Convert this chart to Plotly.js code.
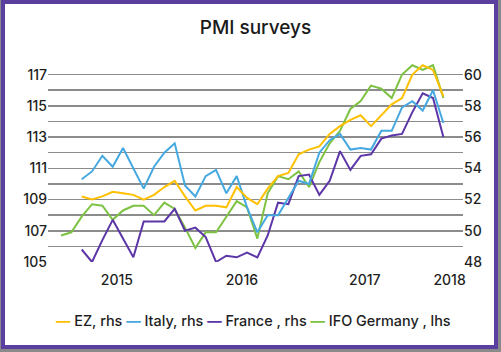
<!DOCTYPE html>
<html>
<head>
<meta charset="utf-8">
<script src="https://cdn.plot.ly/plotly-3.0.1.min.js"></script>
<style>
html,body{margin:0;padding:0;background:#8a8a8a;width:501px;height:352px;overflow:hidden;}
#frame{position:absolute;left:1px;top:0;width:489px;height:341px;border:4px solid #5b3f9e;background:#fff;}
#chart{position:absolute;left:0;top:0;width:501px;height:352px;}
</style>
</head>
<body>
<div id="frame"></div>
<div id="chart"></div>
<script>
// Monthly categories, Jan 2015 .. Feb 2018
const months = ['2015-01','2015-02','2015-03','2015-04','2015-05','2015-06','2015-07','2015-08','2015-09','2015-10','2015-11','2015-12',
                '2016-01','2016-02','2016-03','2016-04','2016-05','2016-06','2016-07','2016-08','2016-09','2016-10','2016-11','2016-12',
                '2017-01','2017-02','2017-03','2017-04','2017-05','2017-06','2017-07','2017-08','2017-09','2017-10','2017-11','2017-12',
                '2018-01','2018-02'];
const pmiStart = '2015-03';

// IFO Germany (lhs), Jan 2015 .. Feb 2018
const ifoGermany = [106.7,106.9,107.9,108.7,108.6,107.7,108.3,108.6,108.6,108.0,108.8,108.4,
                    107.2,105.9,106.9,106.9,107.9,108.9,108.5,106.5,109.4,110.5,110.3,110.8,
                    109.8,111.4,112.6,113.4,114.8,115.3,116.3,116.1,115.5,117.0,117.6,117.3,
                    117.6,115.5];
// PMI series (rhs), Mar 2015 .. Feb 2018
const ezPMI = [52.2,52.0,52.2,52.5,52.4,52.3,52.0,52.3,52.8,53.2,
               52.2,51.3,51.6,51.6,51.5,52.8,52.1,51.7,52.7,53.5,53.7,54.9,
               55.2,55.4,56.2,56.7,57.1,57.4,56.7,57.4,58.1,58.5,60.0,60.6,
               60.3,58.6];
const italyPMI = [53.3,53.8,54.8,54.1,55.3,54.0,52.7,54.1,55.0,55.6,
                  52.9,52.2,53.5,53.9,52.4,53.5,51.5,49.9,51.0,51.0,52.1,53.2,
                  53.0,55.0,55.8,56.2,55.2,55.3,55.2,56.4,56.4,57.9,58.3,57.7,
                  59.0,56.9];
const francePMI = [48.8,48.0,49.4,50.7,49.5,48.3,50.6,50.6,50.6,51.4,
                   50.0,50.2,49.6,48.0,48.4,48.3,48.6,48.3,49.7,51.8,51.7,53.5,
                   53.6,52.3,53.2,55.1,53.9,54.8,54.9,55.9,56.1,56.2,57.6,58.8,
                   58.5,56.0];

const seriesNames = ['EZ, rhs','Italy, rhs','France , rhs','IFO Germany , lhs'];
const yearLabels = ['2015','2016','2017','2018'];
const yearLabelMonth = [5.4, 17.5, 29.4, 37.6]; // label anchor (month index)

const colors = {ez:'#FFC000', italy:'#45A8E0', france:'#5C36A6', ifo:'#7DC242'};
const FONT = 'Inter, "Noto Sans", sans-serif';

const idxAll = months.map((m,i)=>i);
const off = months.indexOf(pmiStart);
const idxPMI = ezPMI.map((v,i)=>i+off);

const line = (c)=>({color:c, width:2});
const traces = [
  {x:idxAll, y:ifoGermany, type:'scatter', mode:'lines', name:seriesNames[3], line:line(colors.ifo), yaxis:'y'},
  {x:idxPMI, y:francePMI, type:'scatter', mode:'lines', name:seriesNames[2], line:line(colors.france), yaxis:'y2'},
  {x:idxPMI, y:italyPMI, type:'scatter', mode:'lines', name:seriesNames[1], line:line(colors.italy), yaxis:'y2'},
  {x:idxPMI, y:ezPMI, type:'scatter', mode:'lines', name:seriesNames[0], line:line(colors.ez), yaxis:'y2'}
];

const legendText =
  '<span style="color:'+colors.ez+'"><b>—</b></span> '+seriesNames[0]+' '+
  '<span style="color:'+colors.italy+'"><b>—</b></span> '+seriesNames[1]+' '+
  '<span style="color:'+colors.france+'"><b>—</b></span> '+seriesNames[2]+' '+
  '<span style="color:'+colors.ifo+'"><b>—</b></span> '+seriesNames[3];

const gridC = '#8c8c8c';
const layout = {
  width:501, height:352,
  margin:{l:48, r:38, t:59, b:90},
  paper_bgcolor:'rgba(0,0,0,0)', plot_bgcolor:'rgba(0,0,0,0)',
  showlegend:false,
  font:{family:FONT, size:14, color:'#1e1e1e'},
  title:{text:'PMI surveys', x:0.5, xanchor:'center', xref:'paper', y:0.923, yref:'container', yanchor:'middle',
         font:{family:FONT, size:19, color:'#1a1a1a', weight:500}},
  xaxis:{range:[-1.26, 38.9], showgrid:false, zeroline:false, showline:false,
         tickmode:'array', tickvals:yearLabelMonth, ticktext:yearLabels, ticks:'',
         tickfont:{family:FONT, size:14, color:'#1e1e1e', weight:500}, ticklabelstandoff:8},
  yaxis:{range:[105,118], tick0:105, dtick:2, showgrid:true, gridcolor:gridC, gridwidth:1.5,
         minor:{tick0:105, dtick:1, showgrid:true, gridcolor:gridC, gridwidth:1.5},
         zeroline:false, showline:false, ticks:'', tickfont:{family:FONT, size:14, color:'#1e1e1e', weight:500}},
  yaxis2:{range:[48,61], tick0:48, dtick:2, overlaying:'y', side:'right', showgrid:false,
          zeroline:false, showline:false, ticks:'', tickfont:{family:FONT, size:14, color:'#1e1e1e', weight:500}},
  annotations:[{xref:'paper', yref:'paper', x:0.495, y:-0.29, xanchor:'center', yanchor:'middle',
                showarrow:false, text:legendText, font:{family:FONT, size:14.4, color:'#1e1e1e', weight:500}}]
};

Plotly.newPlot('chart', traces, layout, {staticPlot:true, displayModeBar:false});
</script>
</body>
</html>
